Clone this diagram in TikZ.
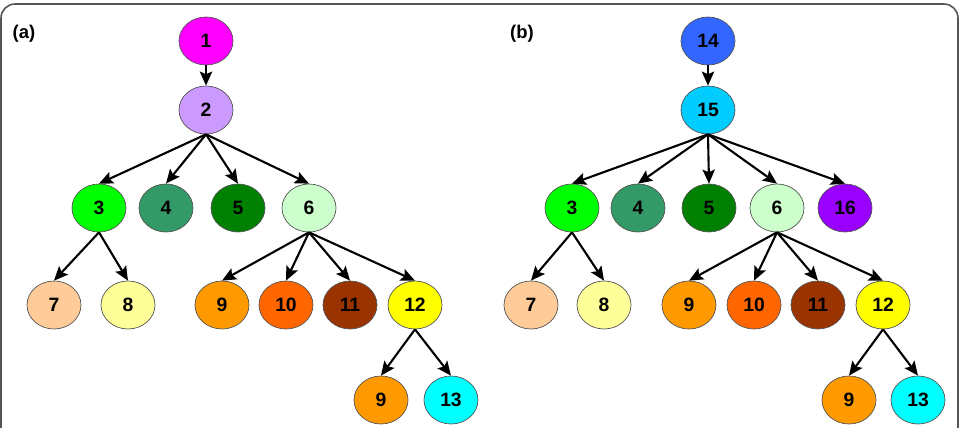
\documentclass[tikz,border=0pt]{standalone}
\usepackage{fontspec}
\setmainfont{Liberation Sans}
\usetikzlibrary{shapes.geometric,arrows.meta}
\definecolor{c1}{HTML}{FF00FF}
\definecolor{c2}{HTML}{CC99FF}
\definecolor{c3}{HTML}{00FF00}
\definecolor{c4}{HTML}{339966}
\definecolor{c5}{HTML}{008000}
\definecolor{c6}{HTML}{CCFFCC}
\definecolor{c7}{HTML}{FFCC99}
\definecolor{c8}{HTML}{FFFF99}
\definecolor{c9}{HTML}{FF9900}
\definecolor{c10}{HTML}{FF6600}
\definecolor{c11}{HTML}{993300}
\definecolor{c12}{HTML}{FFFF00}
\definecolor{c13}{HTML}{00FFFF}
\definecolor{c14}{HTML}{3366FF}
\definecolor{c15}{HTML}{00CCFF}
\definecolor{c16}{HTML}{9900FF}
\definecolor{edgegray}{HTML}{555555}
\tikzset{
  nd/.style={ellipse, draw=edgegray, line width=0.4pt, minimum width=1.08cm, minimum height=0.96cm, inner sep=0pt, font=\fontsize{11}{13}\selectfont\bfseries},
  arr/.style={line width=1.2pt, -{Stealth[length=8pt,width=7pt,inset=1.5pt]}},
  lbl/.style={font=\fontsize{10.5}{12}\selectfont\bfseries, inner sep=0pt},
  frame/.style={draw=edgegray, line width=0.9pt, rounded corners=8pt}
}
\begin{document}
\begin{tikzpicture}[x=0.02cm,y=-0.02cm]
\useasboundingbox (0,0) rectangle (961,428);
\begin{scope}
\clip (0,0) rectangle (961,428);
\draw[frame] (1,4) rectangle (958,460);
\end{scope}
% (a)
\node[lbl] (la) at (24,34) {(a)};
\node[nd, fill=c1] (a1) at (206,41) {1};
\node[nd, fill=c2] (a2) at (206,110) {2};
\node[nd, fill=c3] (a3) at (99,208) {3};
\node[nd, fill=c4] (a4) at (166,208) {4};
\node[nd, fill=c5] (a5) at (238,208) {5};
\node[nd, fill=c6] (a6) at (309,208) {6};
\node[nd, fill=c7] (a7) at (54,305) {7};
\node[nd, fill=c8] (a8) at (128,305) {8};
\node[nd, fill=c9] (a9) at (222,305) {9};
\node[nd, fill=c10] (a10) at (286,305) {10};
\node[nd, fill=c11] (a11) at (350,305) {11};
\node[nd, fill=c12] (a12) at (415,305) {12};
\node[nd, fill=c9] (a9b) at (381,400) {9};
\node[nd, fill=c13] (a13) at (451,400) {13};
\draw[arr] (a1.south) -- (a2.north);
\foreach \c in {a3,a4,a5,a6} \draw[arr] (a2.south) -- (\c.north);
\foreach \c in {a7,a8} \draw[arr] (a3.south) -- (\c.north);
\foreach \c in {a9,a10,a11,a12} \draw[arr] (a6.south) -- (\c.north);
\foreach \c in {a9b,a13} \draw[arr] (a12.south) -- (\c.north);
% (b)
\node[lbl] (lb) at (522,34) {(b)};
\node[nd, fill=c14] (b14) at (708,41) {14};
\node[nd, fill=c15] (b15) at (708,110) {15};
\node[nd, fill=c3] (b3) at (572,208) {3};
\node[nd, fill=c4] (b4) at (638,208) {4};
\node[nd, fill=c5] (b5) at (709,208) {5};
\node[nd, fill=c6] (b6) at (777,208) {6};
\node[nd, fill=c16] (b16) at (845,208) {16};
\node[nd, fill=c7] (b7) at (531,305) {7};
\node[nd, fill=c8] (b8) at (604,305) {8};
\node[nd, fill=c9] (b9) at (689,305) {9};
\node[nd, fill=c10] (b10) at (754,305) {10};
\node[nd, fill=c11] (b11) at (818,305) {11};
\node[nd, fill=c12] (b12) at (883,305) {12};
\node[nd, fill=c9] (b9b) at (849,400) {9};
\node[nd, fill=c13] (b13) at (918,400) {13};
\draw[arr] (b14.south) -- (b15.north);
\foreach \c in {b3,b4,b5,b6,b16} \draw[arr] (b15.south) -- (\c.north);
\foreach \c in {b7,b8} \draw[arr] (b3.south) -- (\c.north);
\foreach \c in {b9,b10,b11,b12} \draw[arr] (b6.south) -- (\c.north);
\foreach \c in {b9b,b13} \draw[arr] (b12.south) -- (\c.north);
\end{tikzpicture}
\end{document}
